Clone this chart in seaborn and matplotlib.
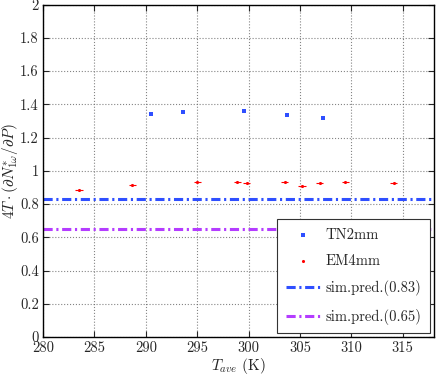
import numpy as np
import pandas as pd
import seaborn as sns
import matplotlib
matplotlib.use('Agg')
import matplotlib.pyplot as plt
from matplotlib.ticker import FuncFormatter, MultipleLocator

tn_T = [290.5, 293.6, 299.6, 303.7, 307.2]
tn_val = [1.343, 1.354, 1.360, 1.333, 1.315]

em_T = [283.5, 288.7, 295.0, 298.9, 299.8, 303.5, 305.2, 306.9, 309.4, 314.1]
em_val = [0.884, 0.914, 0.934, 0.930, 0.924, 0.934, 0.910, 0.924, 0.934, 0.928]
em_xerr = 0.35
em_yerr = 0.006

sim_levels = [0.83, 0.65]
sim_labels = ['sim.pred.(0.83)', 'sim.pred.(0.65)']
sim_colors = ['#2f4fff', '#b43cff']

sns.set_style('ticks')
plt.rcParams['mathtext.fontset'] = 'cm'
plt.rcParams['font.family'] = ['cmr10', 'DejaVu Serif']
plt.rcParams['axes.formatter.use_mathtext'] = True

fig = plt.figure(figsize=(4.36, 3.76), dpi=100)
ax = fig.add_axes([0.0986, 0.1037, 0.896, 0.884])

tn = pd.DataFrame({'T': tn_T, 'v': tn_val})
em = pd.DataFrame({'T': em_T, 'v': em_val})

ax.errorbar(em['T'], em['v'], xerr=em_xerr, yerr=em_yerr, fmt='none',
            ecolor='red', elinewidth=0.8, capsize=0, zorder=3)
sns.scatterplot(data=tn, x='T', y='v', ax=ax, color='#2f4fff', marker='s',
                s=5, linewidth=0, label='TN2mm', zorder=4)
sns.scatterplot(data=em, x='T', y='v', ax=ax, color='red', marker='o',
                s=5, linewidth=0, label='EM4mm', zorder=4)
for lvl, lab, c in zip(sim_levels, sim_labels, sim_colors):
    ax.axhline(lvl, color=c, lw=2.2, ls=(0, (3, 1.2, 0.7, 1.2)), label=lab, zorder=2)

ax.set_xlim(280, 318)
ax.set_ylim(0, 2)
ax.xaxis.set_major_locator(MultipleLocator(5))
ax.yaxis.set_major_locator(MultipleLocator(0.2))
fmt = FuncFormatter(lambda v, p: '%g' % round(v, 2))
ax.xaxis.set_major_formatter(fmt)
ax.yaxis.set_major_formatter(fmt)
ax.tick_params(direction='in', top=True, right=True, labelsize=10.5, length=4,
               width=0.8, pad=3)
ax.grid(True, ls=':', color='#666666', lw=0.8, alpha=0.8)
for s in ax.spines.values():
    s.set_linewidth(1.0)
    s.set_color('black')

ax.set_xlabel(r'$T_{ave}$ (K)', fontsize=11, labelpad=1)
ax.set_ylabel(r'$4T\cdot(\partial N^{*}_{1\omega}/\partial P)$', fontsize=11,
              labelpad=0)

leg = ax.legend(loc='lower right', fontsize=10.5, frameon=True, fancybox=False,
                edgecolor='#333333', framealpha=1, borderaxespad=0.25,
                handlelength=2.3, labelspacing=0.85, borderpad=0.6,
                handletextpad=0.4)
leg.get_frame().set_linewidth(0.8)

fig.savefig('out.png', dpi=100)
